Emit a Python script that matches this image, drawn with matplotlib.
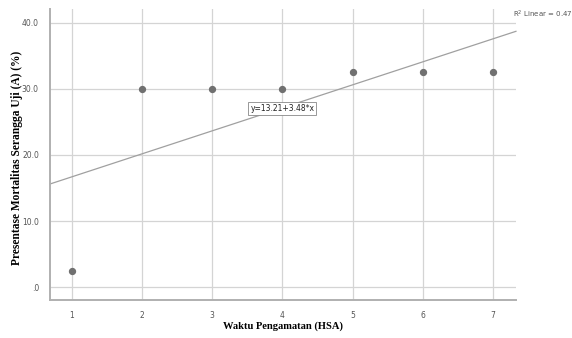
import matplotlib.pyplot as plt
import numpy as np

# observation day (HSA) and mortality (%)
hari = [1, 2, 3, 4, 5, 6, 7]
mortalitas = [2.5, 30.0, 30.0, 30.0, 32.5, 32.5, 32.5]
y_ticks = [0, 10, 20, 30, 40]
y_labels = ['.0', '10.0', '20.0', '30.0', '40.0']

x = np.array(hari, dtype=float)
y = np.array(mortalitas)
slope, intercept = np.polyfit(x, y, 1)
r2 = np.corrcoef(x, y)[0, 1] ** 2

fig = plt.figure(figsize=(5.72, 3.38), dpi=100, facecolor='white')
ax = fig.add_axes([0.0874, 0.1124, 0.8146, 0.8606])

xmin, xmax = 0.687, 7.33
ax.set_xlim(xmin, xmax)
ax.set_ylim(-1.97, 42.1)

ax.set_xticks(hari)
ax.set_yticks(y_ticks)
ax.set_yticklabels(y_labels)
ax.grid(True, color='#d4d4d4', linewidth=0.9)
ax.set_axisbelow(True)
ax.tick_params(length=0, labelsize=5.5, labelcolor='#555555', pad=8)

for s in ['top', 'right']:
    ax.spines[s].set_visible(False)
for s in ['left', 'bottom']:
    ax.spines[s].set_color('#b0b0b0')
    ax.spines[s].set_linewidth(1.4)

# regression line across the full axis width
xl = np.array([xmin, xmax])
ax.plot(xl, intercept + slope * xl, color='#a0a0a0', linewidth=0.9, clip_on=False)

ax.scatter(x, y, s=18, color='#707070', zorder=3)

ax.text(4.0, 27.0, 'y=%.2f+%.2f*x' % (intercept, slope), fontsize=5.5,
        ha='center', va='center', color='#222222',
        bbox=dict(boxstyle='square,pad=0.25', fc='white', ec='#888888', lw=0.6))

fig.text(513 / 572, 1 - 14 / 338, 'R$^2$ Linear = %.3f' % r2, fontsize=5,
         color='#555555', ha='left', va='center')

fig.text(283 / 572, 1 - 326 / 338, 'Waktu Pengamatan (HSA)', family='Liberation Serif',
         fontweight='bold', fontsize=7.6, ha='center', va='center')
fig.text(17 / 572, 1 - 158 / 338, 'Presentase Mortalitas Serangga Uji (A) (%)',
         family='Liberation Serif', fontweight='bold', fontsize=8.3,
         rotation=90, ha='center', va='center')

fig.savefig('out.png', dpi=100)
